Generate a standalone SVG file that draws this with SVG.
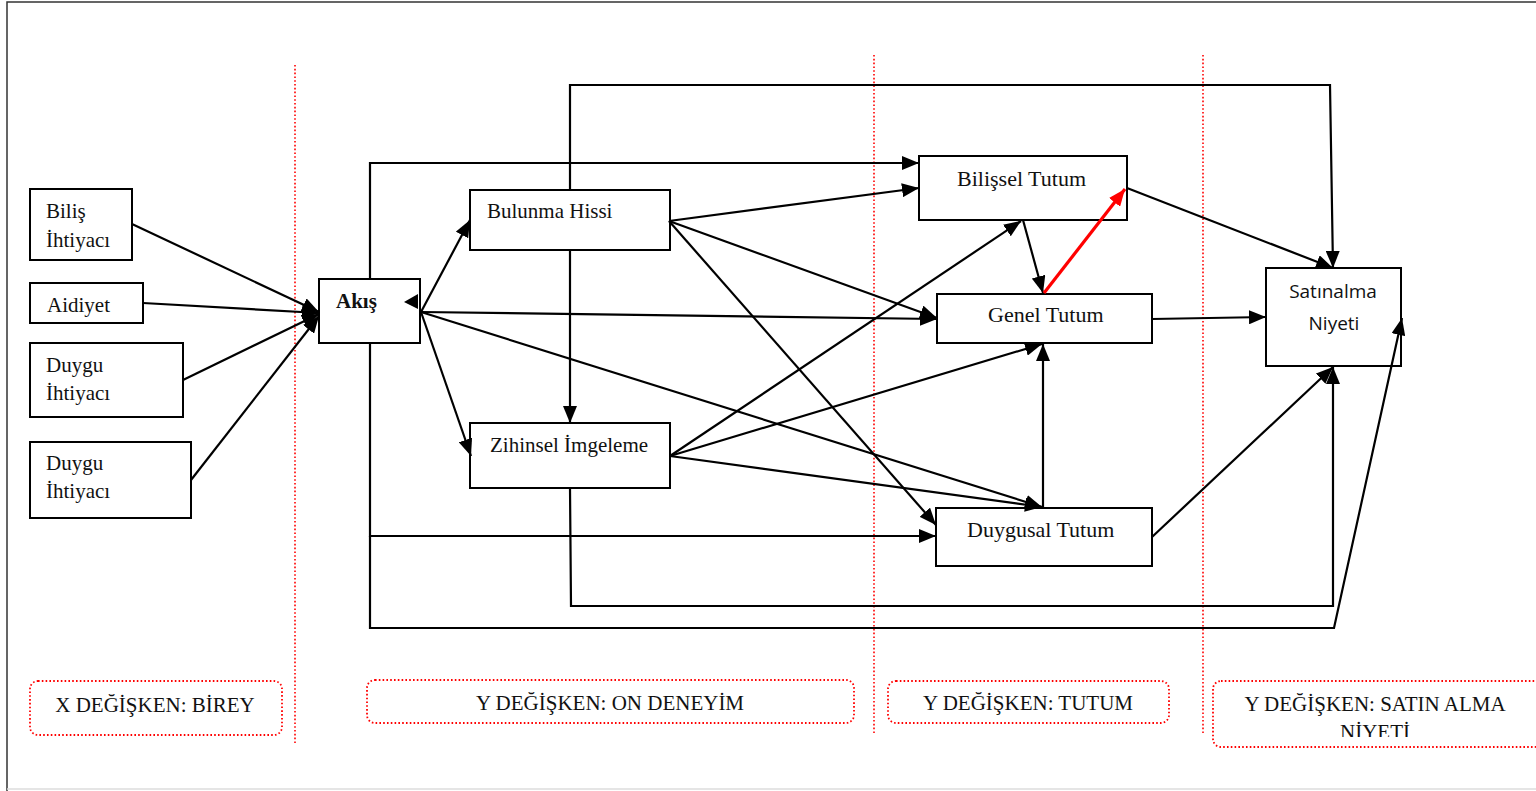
<svg xmlns="http://www.w3.org/2000/svg" width="1536" height="791" viewBox="0 0 1536 791">
  <style>
    .box { fill: #fff; stroke: #000; stroke-width: 2; }
    .lbl { font-family: "Liberation Serif", "Times New Roman", serif; font-size: 21px; fill: #111; }
    .lbl22 { font-family: "Liberation Serif", "Times New Roman", serif; font-size: 22px; fill: #111; }
    .sans { font-family: "Open Sans", "Noto Sans", sans-serif; font-size: 19px; fill: #111; }
    .bold { font-weight: bold; }
    .con path { fill: none; stroke: #000; stroke-width: 2.2; marker-end: url(#arr); }
    .con path.red { stroke: #ff0000; stroke-width: 3.2; marker-end: url(#arrRed); }
    .sep { stroke: #ff0000; stroke-width: 1.6; stroke-dasharray: 1.6 2.2; }
    .zone { fill: #fff; stroke: #ff0000; stroke-width: 1.8; stroke-dasharray: 1.6 2.2; }
  </style>
  <defs>
    <marker id="arr" markerUnits="userSpaceOnUse" markerWidth="18" markerHeight="14" refX="17" refY="7" orient="auto">
      <path d="M0,0 L17,7 L0,14 z" fill="#000"/>
    </marker>
    <marker id="arrRed" markerUnits="userSpaceOnUse" markerWidth="18" markerHeight="14" refX="17" refY="7" orient="auto">
      <path d="M0,0 L17,7 L0,14 z" fill="#ff0000"/>
    </marker>
    <clipPath id="zoneClip"><rect x="1213" y="681" width="330" height="56"/></clipPath>
  </defs>

  <rect width="1536" height="791" fill="#fff"/>
  <!-- page frame -->
  <path d="M7,791 V2 H1536" fill="none" stroke="#333" stroke-width="1.5"/>
  <path d="M7,789 H1536" fill="none" stroke="#ddd" stroke-width="1.5"/>

  <!-- section separators -->
  <g id="separators">
    <line class="sep" x1="295" y1="65" x2="295" y2="745"/>
    <line class="sep" x1="874" y1="55" x2="874" y2="735"/>
    <line class="sep" x1="1203" y1="55" x2="1203" y2="735"/>
  </g>

  <!-- left column: individual variables -->
  <g id="bilis">
    <rect class="box" x="30" y="189" width="102" height="71"/>
    <text class="lbl" x="46" y="218">Biliş</text>
    <text class="lbl" x="46" y="247">İhtiyacı</text>
  </g>
  <g id="aidiyet">
    <rect class="box" x="30" y="283" width="113" height="40"/>
    <text class="lbl" x="47" y="312">Aidiyet</text>
  </g>
  <g id="duygu1">
    <rect class="box" x="30" y="343" width="153" height="74"/>
    <text class="lbl" x="46" y="372">Duygu</text>
    <text class="lbl" x="46" y="400">İhtiyacı</text>
  </g>
  <g id="duygu2">
    <rect class="box" x="30" y="442" width="161" height="76"/>
    <text class="lbl" x="46" y="470">Duygu</text>
    <text class="lbl" x="46" y="498">İhtiyacı</text>
  </g>

  <!-- flow -->
  <g id="akis">
    <rect class="box" x="319" y="279" width="101" height="64"/>
    <text class="lbl bold" x="336" y="308">Akış</text>
  </g>

  <!-- prior experience -->
  <g id="bulunma">
    <rect class="box" x="470" y="190" width="200" height="60"/>
    <text class="lbl" x="487" y="218">Bulunma Hissi</text>
  </g>
  <g id="zihinsel">
    <rect class="box" x="470" y="423" width="200" height="65"/>
    <text class="lbl" x="490" y="452">Zihinsel İmgeleme</text>
  </g>

  <!-- attitudes -->
  <g id="bilissel">
    <rect class="box" x="919" y="156" width="208" height="64"/>
    <text class="lbl22" x="957" y="186">Bilişsel Tutum</text>
  </g>
  <g id="genel">
    <rect class="box" x="937" y="294" width="215" height="49"/>
    <text class="lbl22" x="988" y="322">Genel Tutum</text>
  </g>
  <g id="duygusal">
    <rect class="box" x="936" y="508" width="216" height="58"/>
    <text class="lbl22" x="967" y="537">Duygusal Tutum</text>
  </g>

  <!-- purchase intention -->
  <g id="satinalma">
    <rect class="box" x="1266" y="268" width="135" height="98"/>
    <text class="sans" x="1333" y="298" text-anchor="middle">Satınalma</text>
    <text class="sans" x="1334" y="330" text-anchor="middle">Niyeti</text>
  </g>

  <!-- connectors (drawn over the boxes so heads sitting on edges stay visible) -->
  <g id="connectors" class="con">
    <path d="M132,224 L319,312"/>
    <path d="M143,303 L319,313"/>
    <path d="M183,380 L319,314"/>
    <path d="M191,480 L319,316"/>
    <path d="M421,312 L470,220"/>
    <path d="M421,312 L471,456"/>
    <path d="M421,312 L937,319"/>
    <path d="M421,312 L1042,507"/>
    <path d="M370,279 V163 H919"/>
    <path d="M370,343 V536 H936"/>
    <path d="M370,536 V628 H1334 L1402,318"/>
    <path d="M570,250 V423"/>
    <path d="M570,190 V85 H1330 L1333,268"/>
    <path d="M669,221 L919,188"/>
    <path d="M669,221 L937,318"/>
    <path d="M669,221 L936,525"/>
    <path d="M670,456 L1021,221"/>
    <path d="M670,456 L1042,344"/>
    <path d="M670,456 L1042,507"/>
    <path d="M570,488 L571,606 H1333 V367"/>
    <path d="M1023,220 L1043,293"/>
    <path d="M1127,188 L1333,268"/>
    <path d="M1152,319 L1266,317"/>
    <path d="M1043,507 V344"/>
    <path d="M1152,537 L1333,367"/>
    <path class="red" d="M1044,293 L1125,189"/>
    <polygon points="404,302 418,294 418,309" fill="#000"/>
  </g>

  <!-- section captions -->
  <g id="zone-birey">
    <rect class="zone" x="30" y="681" width="252" height="54" rx="8"/>
    <text class="lbl" x="155" y="712" text-anchor="middle">X DEĞİŞKEN: BİREY</text>
  </g>
  <g id="zone-deneyim">
    <rect class="zone" x="367" y="680" width="487" height="43" rx="8"/>
    <text class="lbl" x="610" y="710" text-anchor="middle">Y DEĞİŞKEN: ON DENEYİM</text>
  </g>
  <g id="zone-tutum">
    <rect class="zone" x="888" y="681" width="281" height="42" rx="8"/>
    <text class="lbl" x="1028" y="710" text-anchor="middle">Y DEĞİŞKEN: TUTUM</text>
  </g>
  <g id="zone-niyet">
    <rect class="zone" x="1213" y="681" width="330" height="66" rx="8"/>
    <g clip-path="url(#zoneClip)">
      <text class="lbl" x="1375" y="711" text-anchor="middle">Y DEĞİŞKEN: SATIN ALMA</text>
      <text class="lbl" x="1375" y="739" text-anchor="middle">NİYETİ</text>
    </g>
  </g>
</svg>
